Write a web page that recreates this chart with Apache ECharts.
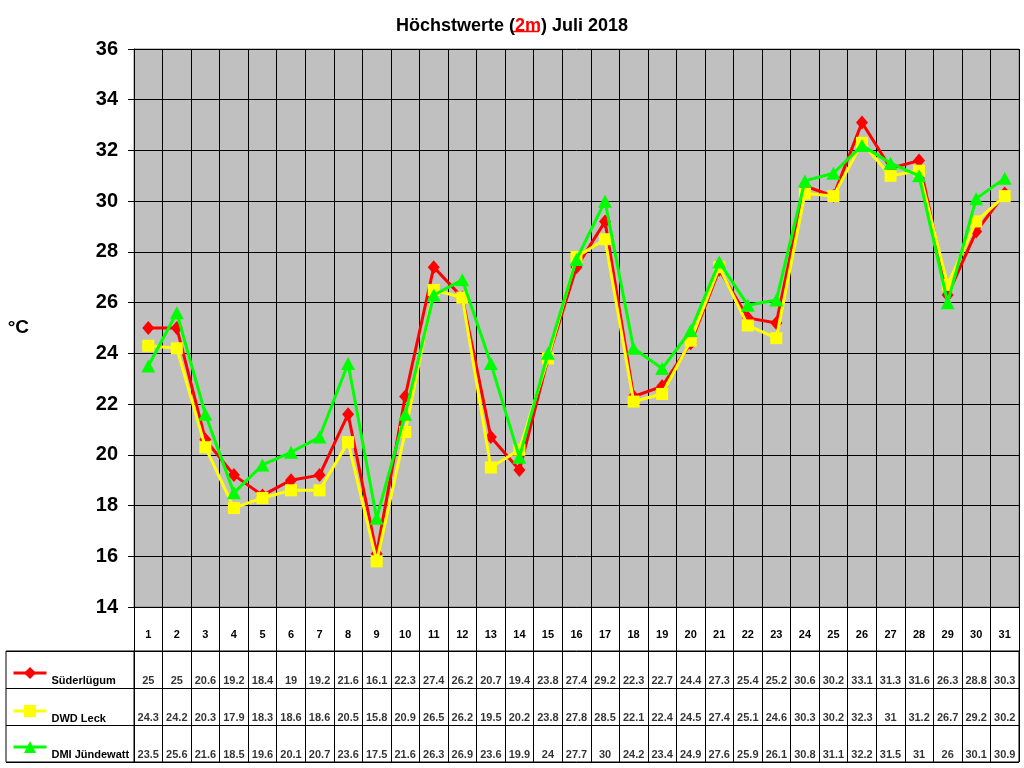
<!DOCTYPE html>
<html>
<head>
<meta charset="utf-8">
<script src="https://cdn.jsdelivr.net/npm/echarts@6/dist/echarts.min.js"></script>
<style>
html,body{margin:0;padding:0;background:#fff;}
#chart{width:1024px;height:768px;}
</style>
</head>
<body>
<div id="chart"></div>
<script>
const days = ['1','2','3','4','5','6','7','8','9','10','11','12','13','14','15','16','17','18','19','20','21','22','23','24','25','26','27','28','29','30','31'];
const seriesNames = ['Süderlügum', 'DWD Leck', 'DMI Jündewatt'];
const suederluegum = [25, 25, 20.6, 19.2, 18.4, 19, 19.2, 21.6, 16.1, 22.3, 27.4, 26.2, 20.7, 19.4, 23.8, 27.4, 29.2, 22.3, 22.7, 24.4, 27.3, 25.4, 25.2, 30.6, 30.2, 33.1, 31.3, 31.6, 26.3, 28.8, 30.3];
const dwdLeck = [24.3, 24.2, 20.3, 17.9, 18.3, 18.6, 18.6, 20.5, 15.8, 20.9, 26.5, 26.2, 19.5, 20.2, 23.8, 27.8, 28.5, 22.1, 22.4, 24.5, 27.4, 25.1, 24.6, 30.3, 30.2, 32.3, 31, 31.2, 26.7, 29.2, 30.2];
const dmiJuendewatt = [23.5, 25.6, 21.6, 18.5, 19.6, 20.1, 20.7, 23.6, 17.5, 21.6, 26.3, 26.9, 23.6, 19.9, 24, 27.7, 30, 24.2, 23.4, 24.9, 27.6, 25.9, 26.1, 30.8, 31.1, 32.2, 31.5, 31, 26, 30.1, 30.9];
const yMin = 14, yMax = 36, yStep = 2;

const FONT = '"Liberation Sans", Arial, sans-serif';
const colors = ['#ff0000', '#ffff00', '#00ff00'];
const symbols = ['diamond', 'rect', 'triangle'];
const symbolSizes = [[12, 14], 12, [14, 13]];
const allSeries = [suederluegum, dwdLeck, dmiJuendewatt];

const tableData = [];
allSeries.forEach((arr, r) => arr.forEach((v, i) => tableData.push([i, r, v])));

const lineSeries = allSeries.map((arr, k) => ({
  name: seriesNames[k],
  type: 'line',
  xAxisIndex: 0, yAxisIndex: 0,
  data: arr,
  symbol: symbols[k],
  symbolSize: symbolSizes[k],
  lineStyle: { color: colors[k], width: 3 },
  itemStyle: { color: colors[k] },
  z: 2 + k
}));

const legendTops = [658, 696, 732];
const legends = seriesNames.map((n, k) => ({
  data: [n],
  left: 12,
  top: legendTops[k],
  orient: 'vertical',
  padding: 0,
  itemWidth: 33,
  itemHeight: 15,
  selectedMode: false,
  formatter: '\n{name}',
  lineStyle: { width: 3 },
  textStyle: { fontFamily: FONT, fontSize: 11, fontWeight: 'bold', color: '#000', lineHeight: 15 }
}));

const chart = echarts.init(document.getElementById('chart'));
chart.setOption({
  animation: false,
  backgroundColor: '#ffffff',
  title: {
    text: '{a|Höchstwerte (}{r|2m}{a|) Juli 2018}',
    left: 'center',
    top: 12,
    textStyle: {
      rich: {
        a: { fontFamily: FONT, fontSize: 18, fontWeight: 'bold', color: '#000' },
        r: { fontFamily: FONT, fontSize: 18, fontWeight: 'bold', color: '#ff0000' }
      }
    }
  },
  graphic: [{
    type: 'line',
    shape: { x1: 513, y1: 31.5, x2: 539, y2: 31.5 },
    style: { stroke: '#ff0000', lineWidth: 1.5 }
  }],
  legend: legends,
  grid: [
    { left: 134, right: 5, top: 49, bottom: 161, show: true, backgroundColor: '#c0c0c0', borderColor: '#808080', borderWidth: 1 },
    { left: 134, right: 5, top: 651, height: 111, show: true, backgroundColor: '#ffffff', borderColor: '#000', borderWidth: 1 },
    { left: 6, width: 128, top: 651, height: 111, show: true, backgroundColor: '#ffffff', borderColor: '#000', borderWidth: 1 }
  ],
  xAxis: [
    {
      gridIndex: 0, type: 'category', data: days, boundaryGap: true,
      axisLine: { show: true, lineStyle: { color: '#000', width: 1 } },
      axisTick: { show: true, interval: 0, length: 44, lineStyle: { color: '#000', width: 1 } },
      axisLabel: { interval: 0, margin: 22, fontFamily: FONT, fontSize: 11, fontWeight: 'bold', color: '#000' },
      splitLine: { show: true, interval: 0, lineStyle: { color: '#000', width: 1 } }
    },
    {
      gridIndex: 1, type: 'category', data: days, boundaryGap: true,
      axisLine: { show: false }, axisTick: { show: false }, axisLabel: { show: false },
      splitLine: { show: true, interval: 0, lineStyle: { color: '#000', width: 1 } }
    },
    {
      gridIndex: 2, type: 'value', show: false
    }
  ],
  yAxis: [
    {
      gridIndex: 0, type: 'value', min: yMin, max: yMax, interval: yStep,
      name: '°C', nameLocation: 'middle', nameRotate: 0, nameGap: 105,
      nameTextStyle: { fontFamily: FONT, fontSize: 19, fontWeight: 'bold', color: '#000' },
      axisLine: { show: true, lineStyle: { color: '#000', width: 1 } },
      axisTick: { show: true, length: 6, lineStyle: { color: '#000', width: 1 } },
      axisLabel: { margin: 16, fontFamily: FONT, fontSize: 20, fontWeight: 'bold', color: '#000' },
      splitLine: { show: true, lineStyle: { color: '#000', width: 1 } }
    },
    {
      gridIndex: 1, type: 'category', data: seriesNames, inverse: true, boundaryGap: true,
      axisLine: { show: false }, axisTick: { show: false }, axisLabel: { show: false },
      splitLine: { show: true, interval: 0, lineStyle: { color: '#000', width: 1 } }
    },
    {
      gridIndex: 2, type: 'category', data: seriesNames, inverse: true, boundaryGap: true,
      axisLine: { show: false }, axisTick: { show: false }, axisLabel: { show: false },
      splitLine: { show: true, interval: 0, lineStyle: { color: '#000', width: 1 } }
    }
  ],
  series: lineSeries.concat([{
    name: 'table',
    type: 'scatter',
    xAxisIndex: 1, yAxisIndex: 1,
    data: tableData,
    symbolSize: 1,
    itemStyle: { color: 'rgba(0,0,0,0)' },
    label: {
      show: true, position: 'inside', offset: [0, 11],
      formatter: p => String(p.value[2]),
      fontFamily: FONT, fontSize: 11, fontWeight: 'bold', color: '#000'
    },
    silent: true
  }])
});
</script>
</body>
</html>
